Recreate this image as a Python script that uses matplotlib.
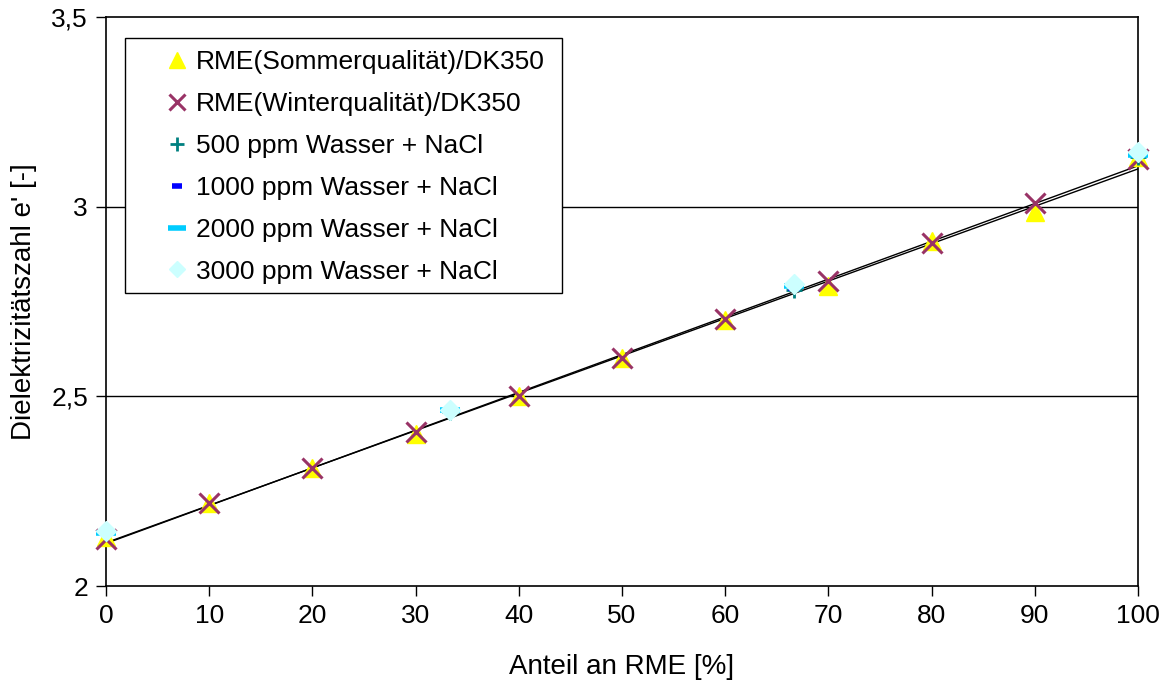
import numpy as np
import matplotlib
matplotlib.use("Agg")
import matplotlib.pyplot as plt
from matplotlib.ticker import FuncFormatter
from matplotlib.patches import Rectangle

plt.rcParams['font.family'] = ['Liberation Sans', 'DejaVu Sans']

# Blend ratios [% RME]
rme_share = [0, 10, 20, 30, 40, 50, 60, 70, 80, 90, 100]
sommer = [2.13, 2.22, 2.31, 2.40, 2.50, 2.60, 2.70, 2.79, 2.91, 2.985, 3.13]
winter = [2.125, 2.22, 2.31, 2.405, 2.50, 2.60, 2.705, 2.805, 2.905, 3.01, 3.125]

water_share = [0, 33.3, 66.7, 100]
w500 = [2.14, 2.46, 2.78, 3.13]
w1000 = [2.14, 2.46, 2.785, 3.135]
w2000 = [2.14, 2.465, 2.79, 3.135]
w3000 = [2.145, 2.465, 2.795, 3.145]

x_ticks = [0, 10, 20, 30, 40, 50, 60, 70, 80, 90, 100]
y_ticks = [2.0, 2.5, 3.0, 3.5]

W, H = 1171, 682
fig = plt.figure(figsize=(W/100, H/100), dpi=100)
L, R, T, B = 106, 1138, 17, 586
ax = fig.add_axes([L/W, 1-B/H, (R-L)/W, (B-T)/H])

def ax_frac(px, py):
    return (px - L) / (R - L), (B - py) / (B - T)

for yv in [2.5, 3.0]:
    ax.axhline(yv, color='black', lw=1.0, zorder=1)

# linear trend lines for both RME series
xs = np.array([0, 100])
for series in (sommer, winter):
    k, d = np.polyfit(rme_share, series, 1)
    ax.plot(xs, k*xs + d, color='black', lw=1.0, zorder=2)

common = dict(linestyle='none', clip_on=False)
ax.plot(rme_share, sommer, marker='^', ms=13, color='#FFFF00', mec='#FFFF00',
        label='RME(Sommerqualität)/DK350', zorder=3, **common)
ax.plot(rme_share, winter, marker='x', ms=14, mew=2.2, color='#993366',
        label='RME(Winterqualität)/DK350', zorder=4, **common)
ax.plot(water_share, w500, marker='+', ms=12, mew=2, color='#008080',
        label='500 ppm Wasser + NaCl', zorder=5, **common)
ax.plot(water_share, w1000, marker='_', ms=9, mew=4, color='#0000FF',
        label='1000 ppm Wasser + NaCl', zorder=6, **common)
ax.plot(water_share, w2000, marker='_', ms=15, mew=4, color='#00CCFF',
        label='2000 ppm Wasser + NaCl', zorder=7, **common)
ax.plot(water_share, w3000, marker='D', ms=10, color='#CCFFFF', mec='#CCFFFF',
        label='3000 ppm Wasser + NaCl', zorder=8, **common)

ax.set_xlim(0, 100)
ax.set_ylim(2.0, 3.5)
ax.set_xticks(x_ticks)
ax.set_yticks(y_ticks)
ax.yaxis.set_major_formatter(FuncFormatter(lambda v, p: f"{v:g}".replace('.', ',')))
ax.tick_params(direction='out', length=7, width=1, labelsize=19, pad=6, colors='black')
for s in ax.spines.values():
    s.set_linewidth(1.2)
    s.set_color('black')

ax.set_xlabel('Anteil an RME [%]', fontsize=20, labelpad=19)
ax.set_ylabel("Dielektrizitätszahl e' [-]", fontsize=20, labelpad=10)

# legend box
x0, y0 = ax_frac(125, 293)
x1, y1 = ax_frac(562, 38)
ax.add_patch(Rectangle((x0, y0), x1 - x0, y1 - y0, transform=ax.transAxes,
                       facecolor='white', edgecolor='black', lw=1.0, zorder=20))
lx, ly = ax_frac(164, 50)
leg = ax.legend(loc='upper left', bbox_to_anchor=(lx, ly), fontsize=19,
                frameon=False, handlelength=1.0, handletextpad=0.2,
                labelspacing=0.68, borderpad=0, borderaxespad=0, markerscale=0.85)
leg.set_zorder(21)

fig.savefig('out.png', dpi=100)
